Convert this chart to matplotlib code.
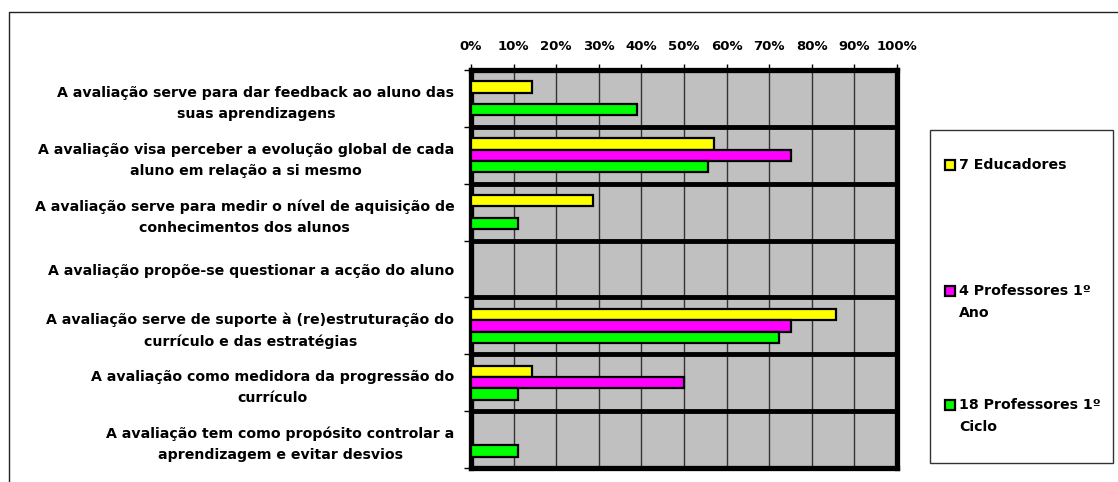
import matplotlib
matplotlib.use("Agg")
import matplotlib.pyplot as plt
from matplotlib.patches import Rectangle
from matplotlib.lines import Line2D
import numpy as np

plt.rcParams['font.family'] = ['DejaVu Sans']
plt.rcParams['font.weight'] = 'bold'

categorias = [
    "A avaliação serve para dar feedback ao aluno das\nsuas aprendizagens",
    "A avaliação visa perceber a evolução global de cada\naluno em relação a si mesmo",
    "A avaliação serve para medir o nível de aquisição de\nconhecimentos dos alunos",
    "A avaliação propõe-se questionar a acção do aluno",
    "A avaliação serve de suporte à (re)estruturação do\ncurrículo e das estratégias",
    "A avaliação como medidora da progressão do\ncurrículo",
    "A avaliação tem como propósito controlar a\naprendizagem e evitar desvios",
]

# percentagens por grupo
educadores = [14.3, 57.1, 28.6, 0, 85.7, 14.3, 0]
prof_1ano = [0, 75.0, 0, 0, 75.0, 50.0, 0]
prof_1ciclo = [38.9, 55.6, 11.1, 0, 72.2, 11.1, 11.1]

nomes = ["7 Educadores", "4 Professores 1º\nAno", "18 Professores 1º\nCiclo"]
cores = ["#FFFF00", "#FF00FF", "#00FF00"]
valores = [educadores, prof_1ano, prof_1ciclo]

W, H = 1118, 482
fig = plt.figure(figsize=(W / 100, H / 100), dpi=100)
ax = fig.add_axes([471 / W, 1 - 468 / H, 426 / W, 398 / H])
ax.set_facecolor("#C0C0C0")

y = np.arange(len(categorias))
h = 0.2
for i, vals in enumerate(valores):
    vals = np.array(vals, dtype=float)
    m = vals > 0
    ax.barh(y[m] + (i - 1) * h, vals[m], height=h, color=cores[i],
            edgecolor="black", linewidth=1.6, zorder=3)

ax.set_xlim(0, 100)
ax.set_ylim(len(categorias) - 0.5, -0.5)

ax.xaxis.tick_top()
ax.set_xticks(np.arange(0, 101, 10))
ax.set_xticklabels([f"{v}%" for v in range(0, 101, 10)], fontsize=9.5, fontweight="bold")
ax.tick_params(axis="x", length=4, width=1, pad=8, colors="black")

ax.set_yticks(y)
ax.set_yticklabels(categorias, fontsize=10.2, fontweight="bold")
for t in ax.get_yticklabels():
    t.set_multialignment("center")
    t.set_linespacing(1.65)
ax.tick_params(axis="y", which="major", length=0, pad=12)
ax.set_yticks(np.arange(-0.5, len(categorias)), minor=True)
ax.tick_params(axis="y", which="minor", length=5, width=1)

ax.grid(axis="x", color="#333333", linewidth=1.0, zorder=1)
for yy in np.arange(0.5, len(categorias) - 0.5):
    ax.axhline(yy, color="black", linewidth=3.5, zorder=2)
for s in ax.spines.values():
    s.set_linewidth(3.8)
    s.set_color("black")
ax.set_axisbelow(True)

# legenda desenhada à mão
fig.patches.append(Rectangle((930 / W, 1 - 463 / H), 183 / W, 333 / H,
                             transform=fig.transFigure, facecolor="white",
                             edgecolor="#333333", linewidth=1.0, zorder=0))
leg_y = [165, 291, 405]
for nome, cor, ly in zip(nomes, cores, leg_y):
    fig.patches.append(Rectangle((945 / W, 1 - (ly + 5) / H), 10 / W, 10 / H,
                                 transform=fig.transFigure, facecolor=cor,
                                 edgecolor="black", linewidth=1.6))
    for k, linha in enumerate(nome.split("\n")):
        fig.text(959 / W, 1 - (ly + 22 * k) / H, linha, fontsize=10.2,
                 fontweight="bold", va="center", ha="left")

# moldura exterior
fig.lines.append(Line2D([9 / W, 9 / W, 1], [0, 1 - 12 / H, 1 - 12 / H],
                        transform=fig.transFigure, color="#222222", linewidth=1.0))

fig.savefig("out.png", dpi=100)
